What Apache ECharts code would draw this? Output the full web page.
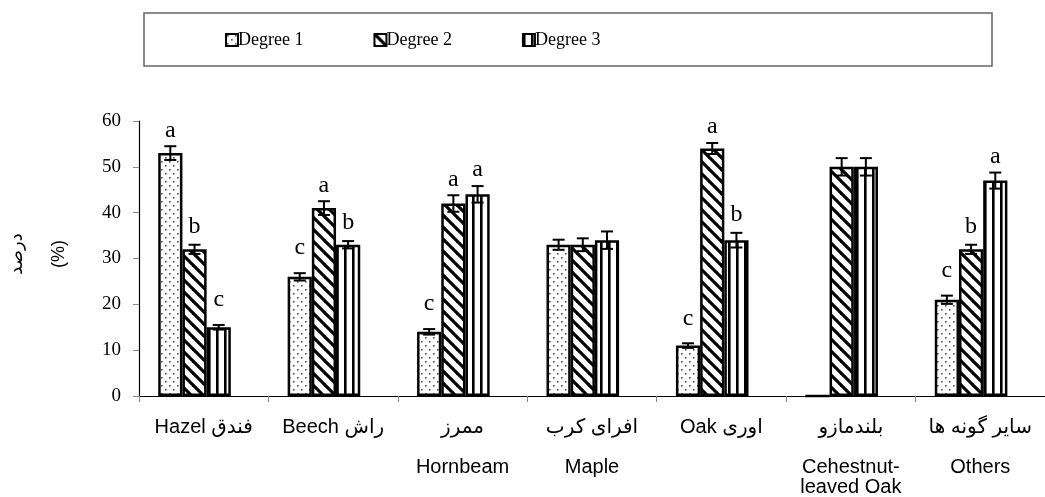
<!DOCTYPE html>
<html>
<head>
<meta charset="utf-8">
<script src="https://cdn.jsdelivr.net/npm/echarts@6/dist/echarts.min.js"></script>
<style>
  html, body { margin: 0; padding: 0; background: #fff; }
  #chart { width: 1045px; height: 497px; }
</style>
</head>
<body>
<div id="chart"></div>
<script>
// Species (Persian name + English name)
const categories = [
  'Hazel فندق',
  'Beech راش',
  'ممرز\n\nHornbeam',
  'افرای کرب\n\nMaple',
  'Oak اوری',
  'بلندمازو\n\nCehestnut-\nleaved Oak',
  'سایر گونه ها\n\nOthers'
];
const seriesNames = ['Degree 1', 'Degree 2', 'Degree 3'];

// Percent of trees per damage degree
const degree1 = [53, 26, 14, 33, 11, 0, 21];
const degree2 = [32, 41, 42, 33, 54, 50, 32];
const degree3 = [15, 33, 44, 34, 34, 50, 47];

// Standard errors
const err1 = [1.5, 0.8, 0.6, 1.1, 0.5, 0, 0.9];
const err2 = [1.0, 1.5, 1.8, 1.4, 1.2, 1.9, 1.0];
const err3 = [0.5, 0.8, 1.8, 1.9, 1.6, 1.9, 1.75];

// Significance letters
const letters1 = ['a', 'c', 'c', '', 'c', '', 'c'];
const letters2 = ['b', 'a', 'a', '', 'a', '', 'b'];
const letters3 = ['c', 'b', 'a', '', 'b', '', 'a'];

const yTicks = { min: 0, max: 60, interval: 10 };

// ---- fill patterns ----
function makeTile(w, h, draw) {
  const c = document.createElement('canvas');
  c.width = w; c.height = h;
  const ctx = c.getContext('2d');
  ctx.fillStyle = '#fff';
  ctx.fillRect(0, 0, w, h);
  draw(ctx, w, h);
  return c;
}
const dotTile = makeTile(8, 8, (ctx) => {
  ctx.fillStyle = '#555';
  ctx.fillRect(1, 1, 1.6, 1.6);
  ctx.fillRect(5, 5, 1.6, 1.6);
});
const diagTile = makeTile(12, 12, (ctx, w, h) => {
  ctx.strokeStyle = '#000';
  ctx.lineWidth = 3.2;
  for (const o of [-w, 0, w]) {
    ctx.beginPath();
    ctx.moveTo(o - 1, -1);
    ctx.lineTo(o + w + 1, h + 1);
    ctx.stroke();
  }
});
const vertTile = makeTile(8, 4, (ctx, w, h) => {
  ctx.fillStyle = '#000';
  ctx.fillRect(0, 0, 2.6, h);
});
const fills = [
  { image: dotTile, repeat: 'repeat' },
  { image: diagTile, repeat: 'repeat' },
  { image: vertTile, repeat: 'repeat' }
];

// ---- bar geometry ----
const BAR_W = 24.2;
const PAD_W = 18.4;               // empty slot to the right of each group
const GROUP_W = 3 * BAR_W + PAD_W;

const values = [degree1, degree2, degree3];
const errors = [err1, err2, err3];
const letters = [letters1, letters2, letters3];

// distance of a letter's centre above the top cap
const letterGap = { a: 16, b: 18, c: 25 };

const barSeries = values.map((vals, k) => ({
  name: seriesNames[k],
  type: 'bar',
  data: vals,
  barWidth: BAR_W,
  barGap: '0%',
  itemStyle: { color: fills[k], borderColor: '#000', borderWidth: 2.5 },
  emphasis: { disabled: true },
  z: 2
}));

const padSeries = {
  name: 'pad',
  type: 'bar',
  data: degree1.map(() => 0),
  barWidth: PAD_W,
  barGap: '0%',
  itemStyle: { color: 'rgba(0,0,0,0)', borderWidth: 0 },
  silent: true,
  z: 1
};

const errSeries = values.map((vals, k) => ({
  name: seriesNames[k] + ' err',
  type: 'custom',
  z: 5,
  silent: true,
  data: vals.map((v, i) => [i, v, errors[k][i]]),
  renderItem: function (params, api) {
    const i = api.value(0), v = api.value(1), e = api.value(2);
    const c = api.coord([i, v]);
    const x = c[0] - GROUP_W / 2 + (k + 0.5) * BAR_W;
    const yt = api.coord([i, v + e])[1];
    const yb = api.coord([i, v - e])[1];
    const children = [];
    const st = { stroke: '#000', lineWidth: 2 };
    if (e > 0) {
      children.push({ type: 'line', shape: { x1: x, y1: yt, x2: x, y2: yb }, style: st });
      children.push({ type: 'line', shape: { x1: x - 6, y1: yt, x2: x + 6, y2: yt }, style: st });
      children.push({ type: 'line', shape: { x1: x - 6, y1: yb, x2: x + 6, y2: yb }, style: st });
    }
    const letter = letters[k][params.dataIndex];
    if (letter) {
      children.push({
        type: 'text',
        style: {
          x: x, y: yt - letterGap[letter],
          text: letter,
          fill: '#000',
          font: '24px "Liberation Serif", "Times New Roman", serif',
          align: 'center',
          verticalAlign: 'middle'
        }
      });
    }
    return { type: 'group', children: children };
  }
}));

const chart = echarts.init(document.getElementById('chart'), null, { renderer: 'canvas' });
chart.setOption({
  animation: false,
  backgroundColor: '#fff',
  grid: { left: 139, top: 121, width: 917, height: 275, containLabel: false },
  legend: {
    data: seriesNames,
    left: 220,
    top: 26,
    itemWidth: 12,
    itemHeight: 12,
    itemGap: 70,
    icon: 'rect',
    selectedMode: false,
    textStyle: {
      fontFamily: '"Liberation Serif", "Times New Roman", serif',
      fontSize: 18,
      color: '#000',
      padding: [0, 0, 0, -5]
    }
  },
  graphic: [
    {
      type: 'rect',
      shape: { x: 144, y: 13, width: 848, height: 53 },
      style: { fill: 'none', stroke: '#666', lineWidth: 1.5 },
      z: 0
    },
    {
      type: 'text',
      x: 17, y: 254,
      rotation: Math.PI / 2,
      style: {
        text: 'درصد',
        fill: '#000',
        font: '18px "Liberation Sans", "DejaVu Sans", sans-serif',
        align: 'center',
        verticalAlign: 'middle'
      }
    },
    {
      type: 'text',
      x: 59, y: 254,
      rotation: Math.PI / 2,
      style: {
        text: '(%)',
        fill: '#000',
        font: '18px "Liberation Sans", "DejaVu Sans", sans-serif',
        align: 'center',
        verticalAlign: 'middle'
      }
    }
  ],
  xAxis: {
    type: 'category',
    data: categories,
    axisLine: { lineStyle: { color: '#000', width: 1.2 } },
    axisTick: { show: true, length: 6, lineStyle: { color: '#888' } },
    axisLabel: {
      interval: 0,
      margin: 21,
      color: '#000',
      fontFamily: '"Liberation Sans", "DejaVu Sans", sans-serif',
      fontSize: 20,
      lineHeight: 20
    },
    splitLine: { show: false }
  },
  yAxis: {
    type: 'value',
    min: yTicks.min,
    max: yTicks.max,
    interval: yTicks.interval,
    axisLine: { show: true, lineStyle: { color: '#000', width: 1.2 } },
    axisTick: { show: true, length: 6, lineStyle: { color: '#888' } },
    axisLabel: {
      margin: 18,
      color: '#000',
      fontFamily: '"Liberation Serif", "Times New Roman", serif',
      fontSize: 19
    },
    splitLine: { show: false }
  },
  series: [...barSeries, padSeries, ...errSeries]
});
</script>
</body>
</html>
